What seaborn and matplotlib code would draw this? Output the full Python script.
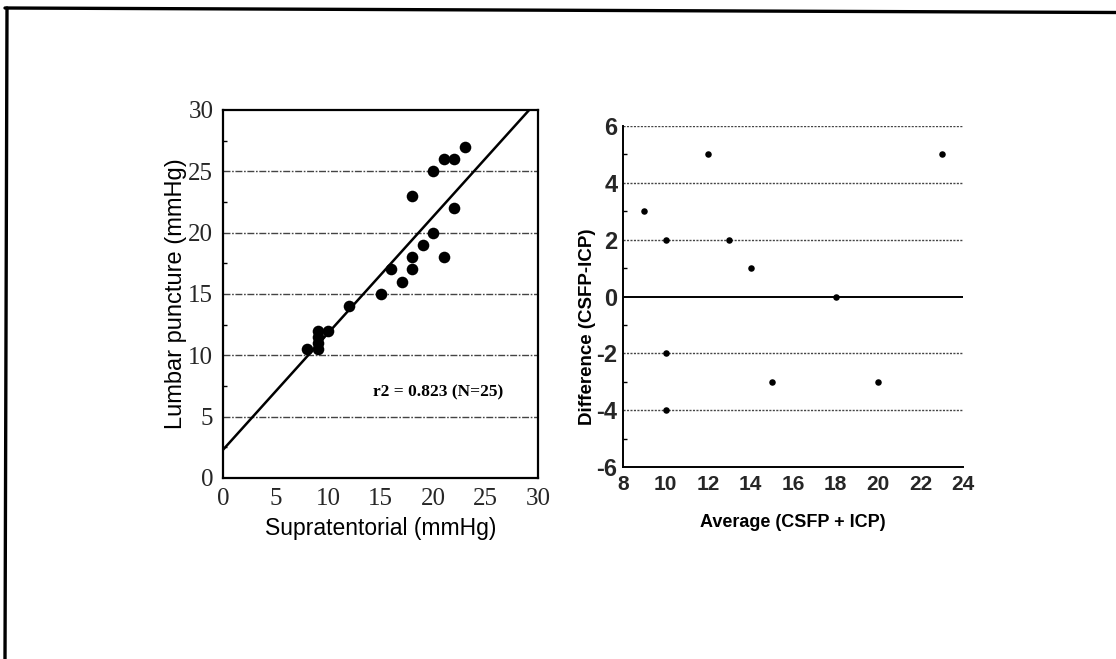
import numpy as np
import pandas as pd
import matplotlib
matplotlib.use("Agg")
import matplotlib.pyplot as plt
from matplotlib.lines import Line2D
from matplotlib.ticker import MultipleLocator
import seaborn as sns

# Supratentorial vs lumbar puncture pressure (mmHg)
supratentorial = [8, 9, 9, 9, 9, 10, 12, 15, 16, 17, 18, 18, 18, 19, 20, 20, 21, 21, 22, 22, 23]
lumbar = [10.5, 10.5, 11, 11.5, 12, 12, 14, 15, 17, 16, 17, 18, 23, 19, 20, 25, 18, 26, 26, 22, 27]
fit_intercept = 2.3
fit_slope = 0.95
fit_label = "r2 = 0.823 (N=25)"

# Bland-Altman style agreement data
average = [9, 10, 10, 10, 12, 13, 14, 15, 18, 20, 23]
difference = [3, 2, -2, -4, 5, 2, 1, -3, 0, -3, 5]

left_grid = [5, 10, 15, 20, 25]
right_grid = [-4, -2, 2, 4, 6]

sns.set_theme(style="white")
plt.rcParams["font.family"] = ["Liberation Sans", "DejaVu Sans"]
plt.rcParams["axes.unicode_minus"] = False

W, H = 1116, 659
fig = plt.figure(figsize=(W / 100, H / 100), dpi=100)
fig.patch.set_facecolor("white")

# ---------- left panel ----------
ax1 = fig.add_axes([223 / W, 1 - 478 / H, 315 / W, 368 / H])
df1 = pd.DataFrame({"x": supratentorial, "y": lumbar})
sns.scatterplot(data=df1, x="x", y="y", ax=ax1, s=70, color="black",
                edgecolor="black", linewidth=0, zorder=4)
ax1.axline((0, fit_intercept), slope=fit_slope, color="black", lw=1.8, zorder=3)
for g in left_grid:
    ax1.axhline(g, color="#444444", lw=1.0, ls=(0, (5, 1.2, 1.2, 1.2)), zorder=1)
ax1.set_xlim(0, 30)
ax1.set_ylim(0, 30)
ax1.xaxis.set_major_locator(MultipleLocator(5))
ax1.yaxis.set_major_locator(MultipleLocator(5))
ax1.yaxis.set_minor_locator(MultipleLocator(2.5))
ax1.tick_params(which="major", direction="in", length=5, width=1.2, color="black",
                pad=7, labelsize=18)
ax1.tick_params(which="minor", direction="in", length=3, width=1.0, color="black", left=True)
for lab in ax1.get_xticklabels() + ax1.get_yticklabels():
    lab.set_fontfamily(["Liberation Serif", "DejaVu Serif"])
for sp in ax1.spines.values():
    sp.set_visible(True)
    sp.set_color("black")
    sp.set_linewidth(1.6)
ax1.set_xlabel("Supratentorial (mmHg)", fontsize=16.5, color="black", labelpad=5)
ax1.set_ylabel("Lumbar puncture (mmHg)", fontsize=17, color="black", labelpad=1)
ax1.text(14.3, 7.0, fit_label, fontsize=12.5, fontweight="bold",
         family=["Liberation Serif", "DejaVu Serif"], va="center", ha="left", color="black")

# ---------- right panel ----------
ax2 = fig.add_axes([623 / W, 1 - 467 / H, 340 / W, 341 / H])
df2 = pd.DataFrame({"avg": average, "diff": difference})
sns.scatterplot(data=df2, x="avg", y="diff", ax=ax2, s=22, color="black",
                edgecolor="black", linewidth=0, zorder=4)
for g in right_grid:
    ax2.axhline(g, color="#444444", lw=1.0, ls=(0, (1.5, 1.0)), zorder=1)
ax2.axhline(0, color="black", lw=1.4, zorder=2)
ax2.set_xlim(8, 24)
ax2.set_ylim(-6, 6)
ax2.xaxis.set_major_locator(MultipleLocator(2))
ax2.yaxis.set_major_locator(MultipleLocator(2))
ax2.yaxis.set_minor_locator(MultipleLocator(1))
ax2.tick_params(axis="x", which="major", direction="in", length=5, width=1.2, color="black",
                pad=6, labelsize=15)
ax2.tick_params(axis="y", which="major", direction="in", length=5, width=1.2, color="black",
                pad=4, labelsize=17)
ax2.tick_params(which="minor", direction="in", length=3, width=1.0, color="black", left=True)
for lab in ax2.get_xticklabels() + ax2.get_yticklabels():
    lab.set_fontweight("bold")
ax2.spines["top"].set_visible(False)
ax2.spines["right"].set_visible(False)
for side in ("left", "bottom"):
    ax2.spines[side].set_visible(True)
    ax2.spines[side].set_color("black")
    ax2.spines[side].set_linewidth(1.4)
ax2.set_xlabel("Average (CSFP + ICP)", fontsize=13, fontweight="bold", color="black",
               labelpad=14)
ax2.set_ylabel("Difference (CSFP-ICP)", fontsize=13.5, fontweight="bold", color="black")
ax2.yaxis.set_label_coords(-0.08, 0.41)

# page frame lines along the top and left edges
fig.add_artist(Line2D([5 / W, 1.0], [1 - 8 / H, 1 - 12.5 / H], transform=fig.transFigure,
                      color="black", lw=2.4))
fig.add_artist(Line2D([7 / W, 5 / W], [1 - 8 / H, 0.0], transform=fig.transFigure,
                      color="black", lw=2.4))

fig.savefig("out.png", dpi=100, facecolor="white")
